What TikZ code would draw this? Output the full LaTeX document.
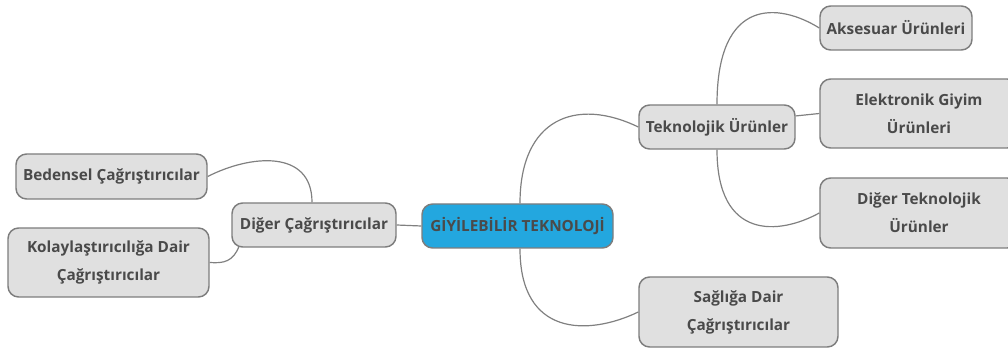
\documentclass[tikz,border=0pt]{standalone}
\usepackage{fontspec}
\setmainfont{Open Sans}
\usetikzlibrary{calc,backgrounds}
\definecolor{boxfill}{HTML}{E0E0E0}
\definecolor{boxline}{HTML}{7D7D7D}
\definecolor{rootfill}{HTML}{23A7DF}
\definecolor{txt}{HTML}{4A4A4A}
\definecolor{conn}{HTML}{808080}
\tikzset{
  box/.style={draw=boxline, fill=boxfill, line width=1.1pt, rounded corners=8pt,
    align=center, text=txt, inner sep=0pt,
    font=\fontsize{11.5pt}{21pt}\selectfont\bfseries},
  rootbox/.style={box, fill=rootfill},
  link/.style={draw=conn, line width=0.9pt}
}
\begin{document}
\begin{tikzpicture}[x=0.75pt,y=-0.75pt]
\useasboundingbox (0,0) rectangle (1008,349);
\clip (0,0) rectangle (1008,349);
\node[rootbox, minimum width={191*0.75pt}, minimum height={44*0.75pt}] (root) at (517.5,226) {GİYİLEBİLİR TEKNOLOJİ};
\node[box, minimum width={164*0.75pt}, minimum height={44*0.75pt}] (dig) at (314,225) {Diğer Çağrıştırıcılar};
\node[box, minimum width={191*0.75pt}, minimum height={45*0.75pt}] (bed) at (111.5,176.5) {Bedensel Çağrıştırıcılar};
\node[box, minimum width={201*0.75pt}, minimum height={69*0.75pt}] (kol) at (108.5,262.5) {Kolaylaştırıcılığa Dair\\Çağrıştırıcılar};
\node[box, minimum width={156*0.75pt}, minimum height={44*0.75pt}] (tek) at (717,127) {Teknolojik Ürünler};
\node[box, minimum width={152*0.75pt}, minimum height={44*0.75pt}] (aks) at (896,28) {Aksesuar Ürünleri};
\node[box, minimum width={198*0.75pt}, minimum height={69*0.75pt}] (ele) at (919,113.5) {Elektronik Giyim\\Ürünleri};
\node[box, minimum width={198*0.75pt}, minimum height={70*0.75pt}] (dte) at (919,213) {Diğer Teknolojik\\Ürünler};
\node[box, minimum width={199*0.75pt}, minimum height={70*0.75pt}] (sag) at (738.5,312) {Sağlığa Dair\\Çağrıştırıcılar};
\begin{scope}[on background layer]
\draw[link] (root.west) -- (dig.east);
\draw[link] ($(root.north)+(2.5,0)$) .. controls ($(root.north)+(2.5,-85)$) and ($(tek.west)+(-62,-30)$) .. (tek.west);
\draw[link] ($(root.south)+(2.5,0)$) .. controls ($(root.south)+(2.5,88)$) and ($(sag.west)+(-50,24)$) .. (sag.west);
\draw[link] (tek.north) .. controls ($(tek.north)+(0,-108)$) and ($(aks.west)+(-40,-25)$) .. (aks.west);
\draw[link] (tek.8) -- (ele.west);
\draw[link] (tek.south) .. controls ($(tek.south)+(0,91)$) and ($(dte.west)+(-40,22)$) .. (dte.west);
\draw[link] ($(dig.north)+(-2,0)$) .. controls ($(dig.north)+(-2,-53)$) and ($(bed.east)+(43,-22)$) .. (bed.east);
\draw[link] ($(dig.south west)+(8,-2)$) .. controls ($(dig.south west)+(2,14)$) and ($(kol.east)+(14,1)$) .. (kol.east);
\end{scope}
\end{tikzpicture}
\end{document}
